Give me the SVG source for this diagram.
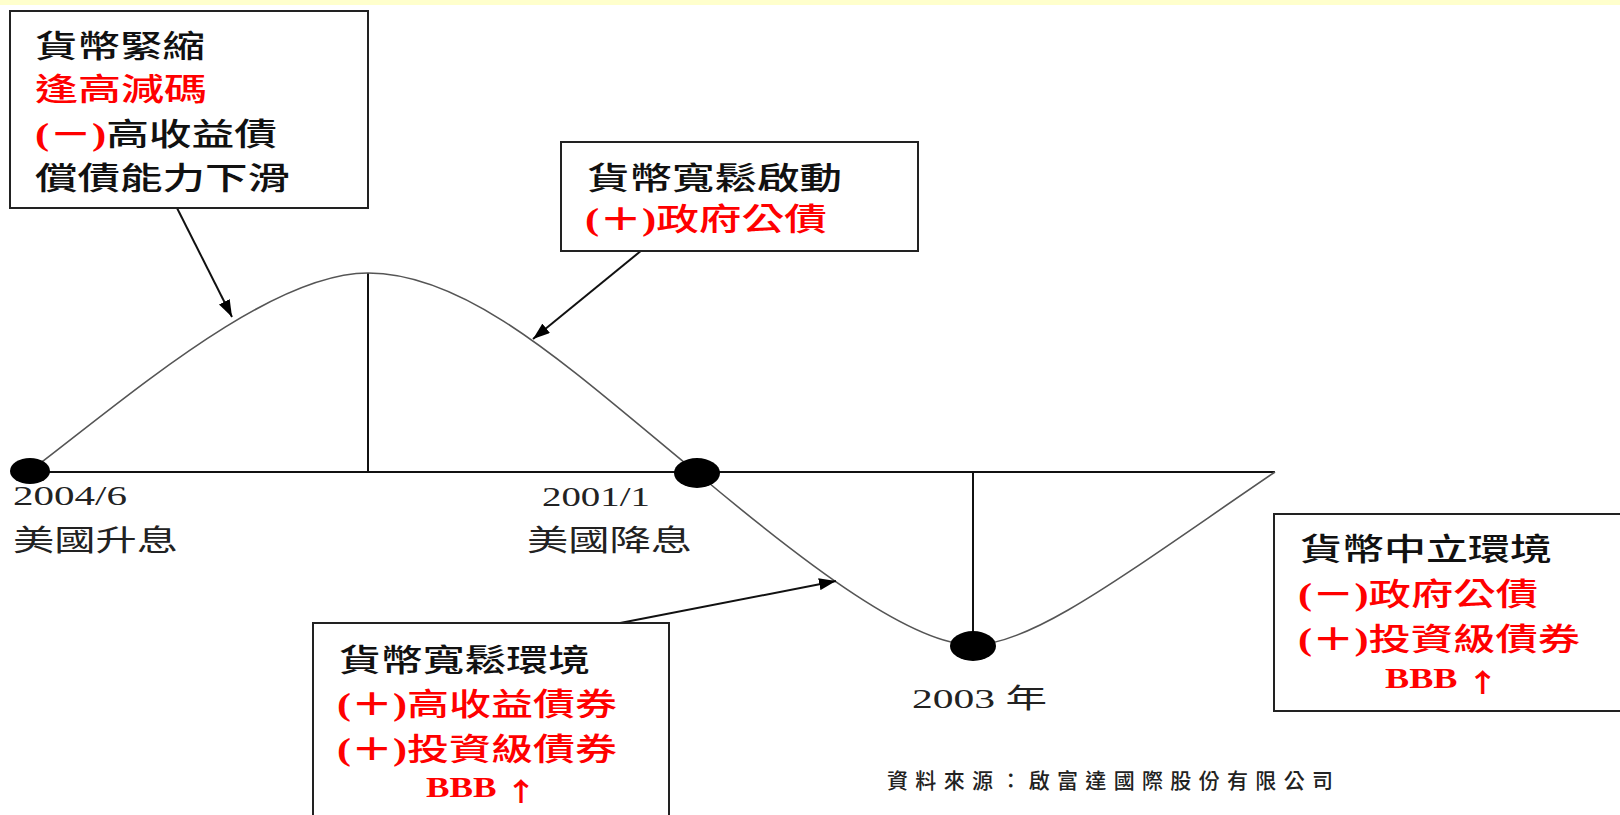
<svg xmlns="http://www.w3.org/2000/svg" width="1620" height="815" viewBox="0 0 1620 815">
<defs>
<style>
.box{fill:#fff;stroke:#222;stroke-width:2}
.axis{fill:none;stroke:#111;stroke-width:2}
.curve{fill:none;stroke:#555;stroke-width:1.6}
.conn{fill:none;stroke:#111;stroke-width:2}
.dot{fill:#000}
.bt{font-family:"Liberation Serif","Noto Sans CJK TC",serif;font-size:31px;font-weight:500;fill:#111}
.red{fill:#f00}
.pb{font-weight:bold}
.bbb{font-family:"Liberation Serif","Noto Sans CJK TC",serif;font-size:29px;font-weight:bold;fill:#f00}
.up{font-family:"Noto Sans CJK TC",sans-serif;font-size:26px;font-weight:bold}
.lab{font-family:"Liberation Serif","Noto Sans CJK TC",serif;font-size:27px;fill:#222}
.labc{font-family:"Noto Sans CJK TC",sans-serif;font-size:29px;fill:#222}
.src{font-family:"Noto Sans CJK TC",sans-serif;font-size:21px;font-weight:500;fill:#222}
</style>
<marker id="ah" markerUnits="userSpaceOnUse" markerWidth="17" markerHeight="12" refX="17" refY="6" orient="auto">
<path d="M0,0 L17,6 L0,12 z" fill="#000"/>
</marker>
</defs>
<rect x="0" y="0" width="1620" height="815" fill="#fff"/>
<rect x="0" y="0" width="1620" height="5" fill="#ffffcc"/>

<g id="chart">
<line class="axis" x1="30" y1="472" x2="1275" y2="472"/>
<line class="axis" x1="368" y1="273" x2="368" y2="472"/>
<line class="axis" x1="973" y1="472" x2="973" y2="646"/>
<path class="curve" d="M30,471 C130,395 270,273 368,273 C468,273 567,366 697,473 C810,568 913,645 973,645 C1033,645 1125,574 1275,472"/>
</g>

<g id="dot-2004">
<ellipse class="dot" cx="30" cy="471" rx="20" ry="13"/>
<text class="lab" x="13" y="505" textLength="114" lengthAdjust="spacingAndGlyphs">2004/6</text>
<text class="labc" x="13" y="551" textLength="165" lengthAdjust="spacingAndGlyphs">美國升息</text>
</g>
<g id="dot-2001">
<ellipse class="dot" cx="697" cy="473" rx="23" ry="15"/>
<text class="lab" x="542" y="506" textLength="108" lengthAdjust="spacingAndGlyphs">2001/1</text>
<text class="labc" x="527" y="551" textLength="165" lengthAdjust="spacingAndGlyphs">美國降息</text>
</g>
<g id="dot-2003">
<ellipse class="dot" cx="973" cy="646" rx="23" ry="15"/>
<text class="lab" x="912" y="708" textLength="135" lengthAdjust="spacingAndGlyphs">2003 年</text>
</g>

<g id="connectors">
<path class="conn" d="M177,208 L232,317" marker-end="url(#ah)"/>
<path class="conn" d="M642,250 L533,339" marker-end="url(#ah)"/>
<path class="conn" d="M615,624 L836,581" marker-end="url(#ah)"/>
</g>

<g id="box-tightening">
<rect class="box" x="10" y="11" width="358" height="197"/>
<text class="bt" x="35" y="57" textLength="170" lengthAdjust="spacingAndGlyphs">貨幣緊縮</text>
<text class="bt red" x="35" y="100" textLength="172" lengthAdjust="spacingAndGlyphs">逢高減碼</text>
<text class="bt" x="35" y="145" textLength="242" lengthAdjust="spacingAndGlyphs"><tspan class="red pb">(－)</tspan>高收益債</text>
<text class="bt" x="35" y="189" textLength="255" lengthAdjust="spacingAndGlyphs">償債能力下滑</text>
</g>

<g id="box-easing-start">
<rect class="box" x="561" y="142" width="357" height="109"/>
<text class="bt" x="587" y="189" textLength="255" lengthAdjust="spacingAndGlyphs">貨幣寬鬆啟動</text>
<text class="bt red" x="585" y="230" textLength="242" lengthAdjust="spacingAndGlyphs"><tspan class="pb">(＋)</tspan>政府公債</text>
</g>

<g id="box-easing-env">
<rect class="box" x="313" y="623" width="356" height="210"/>
<text class="bt" x="339" y="671" textLength="251" lengthAdjust="spacingAndGlyphs">貨幣寬鬆環境</text>
<text class="bt red" x="337" y="715" textLength="280" lengthAdjust="spacingAndGlyphs"><tspan class="pb">(＋)</tspan>高收益債券</text>
<text class="bt red" x="337" y="760" textLength="280" lengthAdjust="spacingAndGlyphs"><tspan class="pb">(＋)</tspan>投資級債券</text>
<text class="bbb" x="426" y="797" textLength="111" lengthAdjust="spacingAndGlyphs">BBB <tspan class="up" dy="4">↑</tspan></text>
</g>

<g id="box-neutral">
<rect class="box" x="1274" y="514" width="360" height="197"/>
<text class="bt" x="1300" y="560" textLength="252" lengthAdjust="spacingAndGlyphs">貨幣中立環境</text>
<text class="bt red" x="1298" y="605" textLength="240" lengthAdjust="spacingAndGlyphs"><tspan class="pb">(－)</tspan>政府公債</text>
<text class="bt red" x="1298" y="650" textLength="282" lengthAdjust="spacingAndGlyphs"><tspan class="pb">(＋)</tspan>投資級債券</text>
<text class="bbb" x="1385" y="688" textLength="114" lengthAdjust="spacingAndGlyphs">BBB <tspan class="up" dy="4">↑</tspan></text>
</g>

<g id="source">
<text class="src" x="887" y="788" textLength="446" lengthAdjust="spacing">資料來源：啟富達國際股份有限公司</text>
</g>
</svg>
